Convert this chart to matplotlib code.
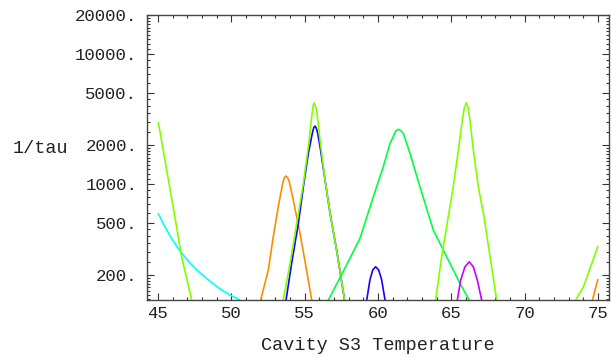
import numpy as np
import matplotlib.pyplot as plt
from matplotlib.ticker import FixedLocator, NullFormatter

# ---------------------------------------------------------------------------
# Data (temperature, 1/tau)
# ---------------------------------------------------------------------------
lime1_t = [45.02, 45.59, 46.11, 46.61, 47.3]
lime1_v = [3013, 1283, 596, 276, 128]

cyan_t = [45.0, 45.48, 45.95, 46.5, 47.18, 47.86, 48.54, 49.23, 49.91, 50.59]
cyan_v = [598, 467, 378, 305, 247, 207, 179, 156, 140, 128]

orange_t = [52.0, 52.52, 52.86, 53.2, 53.5, 53.62, 53.73, 53.84, 53.95, 54.27, 54.68, 55.09, 55.48]
orange_v = [128, 218, 394, 668, 1012, 1120, 1153, 1120, 1042, 711, 418, 231, 128]

blue_t = [53.73, 54.11, 54.57, 54.91, 55.25, 55.52, 55.62, 55.7, 55.79, 55.89, 56.05,
          56.39, 56.73, 57.18, 57.72]
blue_v = [128, 245, 499, 953, 1722, 2455, 2720, 2793, 2700, 2455, 1936,
          1074, 596, 310, 128]

lime2_t = [53.54, 54.0, 54.46, 54.91, 55.25, 55.48, 55.56, 55.64, 55.72, 55.82, 56.05,
           56.39, 56.73, 57.18, 57.72]
lime2_v = [128, 245, 499, 1012, 1936, 3296, 3900, 4217, 4000, 3706, 2180,
           1074, 596, 310, 128]

green_t = [56.61, 57.68, 58.77, 59.68, 60.36, 60.82, 61.04, 61.2, 61.38, 61.55, 61.73,
           62.18, 62.86, 63.77, 64.68, 65.59, 66.22]
green_v = [128, 218, 382, 798, 1359, 2056, 2312, 2550, 2636, 2580, 2455,
           1722, 953, 443, 276, 172, 128]

blue60_t = [59.23, 59.45, 59.64, 59.84, 60.05, 60.25, 60.48]
blue60_v = [128, 183, 218, 231, 218, 183, 128]

lime3_t = [63.93, 64.34, 64.79, 65.13, 65.48, 65.75, 65.88, 66.02, 66.15, 66.27, 66.5,
           66.84, 67.23, 67.64, 68.09]
lime3_v = [128, 276, 560, 953, 1828, 3106, 3850, 4217, 3850, 3106, 1828,
           953, 560, 276, 128]

magenta_t = [65.41, 65.64, 65.93, 66.22, 66.5, 66.77, 67.07]
magenta_v = [128, 183, 231, 252, 231, 183, 128]

lime4_t = [73.48, 74.01, 74.34, 75.0]
lime4_v = [128, 162, 206, 334]

orange2_t = [74.62, 75.0]
orange2_v = [128, 186]

ytick_vals = [200, 500, 1000, 2000, 5000, 10000, 20000]
ytick_labels = ['200.', '500.', '1000.', '2000.', '5000.', '10000.', '20000.']
xtick_vals = [45, 50, 55, 60, 65, 70, 75]

# ---------------------------------------------------------------------------
LIME = (0.5, 1.0, 0.0)
CYAN = (0.0, 1.0, 1.0)
ORANGE = (1.0, 0.55, 0.0)
BLUE = (0.1, 0.0, 1.0)
GREEN = (0.0, 1.0, 0.25)
MAGENTA = (0.8, 0.0, 1.0)

plt.rcParams['font.family'] = ['Liberation Mono', 'DejaVu Sans Mono']

fig = plt.figure(figsize=(6.11, 3.57), dpi=100)
ax = fig.add_axes([147 / 611, 1 - 300 / 357, 462 / 611, 285 / 357])

lw = 1.2
kw = dict(lw=lw, solid_joinstyle='round', solid_capstyle='butt')
ax.plot(cyan_t, cyan_v, color=CYAN, **kw)
ax.plot(lime1_t, lime1_v, color=LIME, **kw)
ax.plot(orange_t, orange_v, color=ORANGE, **kw)
ax.plot(blue_t, blue_v, color=BLUE, **kw)
ax.plot(lime2_t, lime2_v, color=LIME, **kw)
ax.plot(green_t, green_v, color=GREEN, **kw)
ax.plot(blue60_t, blue60_v, color=BLUE, **kw)
ax.plot(lime3_t, lime3_v, color=LIME, **kw)
ax.plot(magenta_t, magenta_v, color=MAGENTA, **kw)
ax.plot(lime4_t, lime4_v, color=LIME, **kw)
ax.plot(orange2_t, orange2_v, color=ORANGE, **kw)

ax.set_yscale('log')
ax.set_xlim(44.25, 75.75)
ax.set_ylim(128.2, 20000)

# ticks
ax.set_xticks(xtick_vals)
ax.xaxis.set_minor_locator(FixedLocator(np.arange(44, 77, 1)))
ax.yaxis.set_major_locator(FixedLocator(ytick_vals))
ax.set_yticklabels(ytick_labels)
minor_y = []
for d in [100, 1000, 10000]:
    minor_y += [d * s for s in np.arange(1.1, 2.0, 0.1)]
    minor_y += [d * s for s in [2.5, 3, 3.5, 4, 4.5, 6, 7, 8, 9]]
ax.yaxis.set_minor_locator(FixedLocator(minor_y))
ax.yaxis.set_minor_formatter(NullFormatter())

ax.tick_params(which='both', direction='in', top=True, right=True,
               width=0.8, colors='#333333', labelcolor='#222222')
ax.tick_params(which='major', length=5, labelsize=12.5)
ax.tick_params(axis='y', which='major', pad=7)
ax.tick_params(axis='x', which='major', pad=4)
ax.tick_params(which='minor', length=2.5)

for s in ax.spines.values():
    s.set_linewidth(1.0)
    s.set_color('#444444')

ax.set_xlabel('Cavity S3 Temperature', fontsize=13.3, color='#222222', labelpad=12)
ax.set_ylabel('1/tau', fontsize=13.3, rotation=0, color='#222222')
ax.yaxis.set_label_coords(-0.231, 0.502)

fig.savefig('out.png', dpi=100)
